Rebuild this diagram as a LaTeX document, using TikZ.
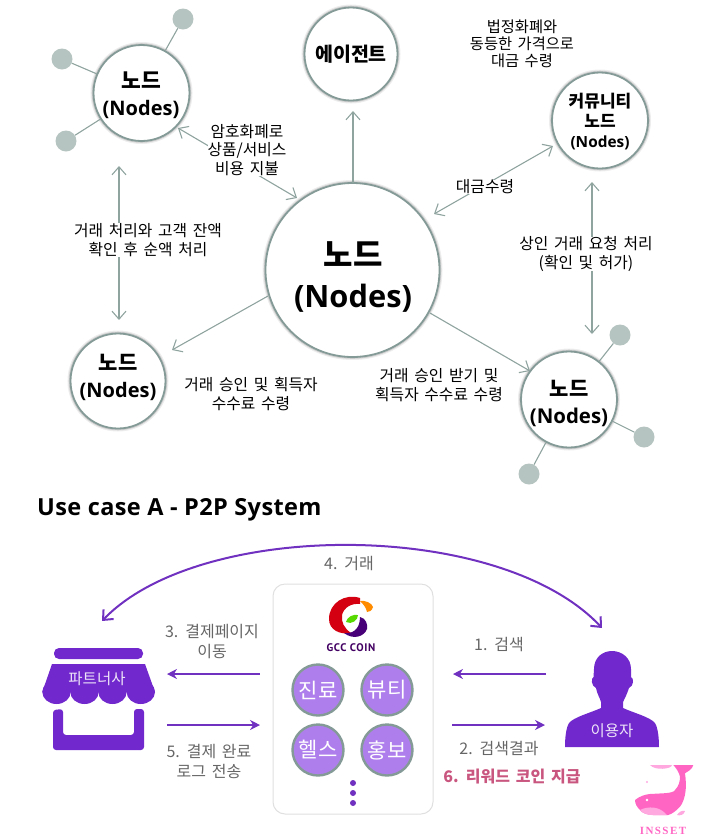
\documentclass[tikz,border=0pt]{standalone}
\usepackage{fontspec}
\setmainfont[WordSpace=1.6]{Noto Sans CJK KR}
\newfontfamily\insfont{Liberation Serif}
\newfontfamily\latf{Open Sans}
\newfontfamily\gccf{PT Sans}
\usetikzlibrary{arrows.meta,calc}
\definecolor{edge}{HTML}{8FA39F}
\definecolor{ring}{HTML}{849A96}
\definecolor{sat}{HTML}{B5C4C0}
\definecolor{purp}{HTML}{7128CC}
\definecolor{arrowp}{HTML}{7030C0}
\definecolor{lilac}{HTML}{AE7FEC}
\definecolor{grayt}{HTML}{666666}
\definecolor{rose}{HTML}{C9567F}
\definecolor{whale}{HTML}{FF66C4}
\definecolor{whalel}{HTML}{FFA8E0}
\newcommand{\fsz}[2]{\fontsize{#1}{#2}\selectfont}
\tikzset{
 nodecirc/.style={circle,draw=ring,line width=1.8pt,fill=white,minimum size=#1,inner sep=0pt,
   preaction={draw=black,draw opacity=.07,line width=6pt},
   preaction={draw=black,draw opacity=.14,line width=3.6pt}},
 ntext/.style={inner sep=0pt,align=center,font=\bfseries\fsz{20}{#1}},
 satel/.style={circle,fill=sat,minimum size=21,inner sep=0pt},
 satline/.style={draw=edge,line width=1.1pt},
 flow/.style={draw=edge,line width=1.1pt,-{Straight Barb[length=8,width=14]}},
 flowb/.style={draw=edge,line width=1.1pt,{Straight Barb[length=8,width=14]}-{Straight Barb[length=8,width=14]}},
 lab/.style={fill=white,inner sep=0pt,align=center,font=\fsz{15.8}{18.7}},
 free/.style={inner sep=0pt,align=center,font=\fsz{15.8}{18.7}},
 gflow/.style={draw=arrowp,line width=2pt,-{Stealth[length=10,width=10]}},
 gtext/.style={inner sep=0pt,align=center,text=grayt,font=\fsz{16}{20}},
 svc/.style={circle,draw=ring,line width=2.4pt,fill=lilac,minimum size=51,inner sep=0pt,text=white,font=\fsz{21}{24}},
 dotp/.style={circle,fill=arrowp,minimum size=6,inner sep=0pt},
}
\begin{document}
\begin{tikzpicture}[x=1pt,y=-1pt]
\useasboundingbox (0,0) rectangle (703,839);
% ---------- circles
\node[nodecirc=96] (tl) at (141.5,93) {};
\node[nodecirc=93] (ag) at (351,54) {};
\node[nodecirc=96] (cm) at (600,120.5) {};
\node[nodecirc=95] (bl) at (118,381) {};
\node[nodecirc=96] (br) at (569,399.5) {};
\node[nodecirc=174] (mn) at (352.5,270) {};
% ---------- satellites
\node[satel] (s1) at (183,19) {};
\node[satel] (s2) at (62,59) {};
\node[satel] (s3) at (66,141) {};
\node[satel] (s4) at (620,335) {};
\node[satel] (s5) at (644,437) {};
\node[satel] (s6) at (529,474) {};
\draw[satline] (s1) -- (tl);
\draw[satline] (s2) -- (tl);
\draw[satline] (s3) -- (tl);
\draw[satline] (s4) -- (br);
\draw[satline] (s5) -- (br);
\draw[satline] (s6) -- (br);
% ---------- circle texts
\node[ntext=27] (ttl) at (141,95) {\fsz{21.5}{27}노드\\\latf\bfseries\fsz{20}{27}(Nodes)};
\node[ntext=24] (tag) at (351,54) {\fsz{19.5}{24}에이전트};
\node[ntext=20] (tcm) at (600,122) {\fsz{17}{20}커뮤니티\\\fsz{17}{20}노드\\\latf\bfseries\fsz{15.4}{20}(Nodes)};
\node[ntext=27] (tbl) at (118,377) {\fsz{21}{27}노드\\\latf\bfseries\fsz{20}{27}(Nodes)};
\node[ntext=27] (tbr) at (569,403) {\fsz{21}{27}노드\\\latf\bfseries\fsz{20.4}{27}(Nodes)};
\node[ntext=41] (tmn) at (353,277) {\fsz{32}{41}노드\\\latf\bfseries\fsz{30.8}{41}(Nodes)};
% ---------- connector ends
\coordinate (a1) at (178,128); \coordinate (a2) at (297,198);
\coordinate (b1) at (119,166); \coordinate (b2) at (119,320);
\coordinate (c1) at (592,182); \coordinate (c2) at (592,334);
\coordinate (d1) at (434,214); \coordinate (d2) at (553,146);
\coordinate (e1) at (268,296); \coordinate (e2) at (172,350);
\coordinate (f1) at (430,313); \coordinate (f2) at (530,371);
\coordinate (g1) at (353,183); \coordinate (g2) at (353,111);
\draw[flowb] (a1) -- (a2);
\draw[flowb] (b1) -- (b2);
\draw[flowb] (c1) -- (c2);
\draw[flowb] (d1) -- (d2);
\draw[flow] (e1) -- (e2);
\draw[flow] (f1) -- (f2);
\draw[flow] (g1) -- (g2);
% ---------- labels
\node[lab] (t1) at (247,150) {암호화폐로\\상품/서비스\\비용 지불};
\node[lab] (t2) at (148,240) {거래 처리와 고객 잔액\\확인 후 순액 처리};
\node[lab] (t3) at (586,254) {상인 거래 요청 처리\\(확인 및 허가)};
\node[lab] (t4) at (485,187) {대금수령};
\node[free] (t5) at (251,394) {거래 승인 및 획득자\\수수료 수령};
\node[free] (t6) at (439,385) {거래 승인 받기 및\\획득자 수수료 수령};
\node[free,font=\fsz{15.3}{17}] (t7) at (522,44) {법정화폐와\\동등한 가격으로\\대금 수령};
% ---------- title
\node[anchor=west,inner sep=0pt,font=\latf\bfseries\fsz{23.5}{28}] (title) at (37,510) {\addfontfeature{LetterSpace=1.7}Use case A - P2P System};
% ---------- card
\node[draw=black!12,line width=1pt,rounded corners=12,fill=white,minimum width=160,minimum height=230,inner sep=0pt] (card) at (353,699) {};
% logo
\fill[red!70!purple!90!black] (360,598) .. controls (345,593) and (329,603) .. (329,619) .. controls (329,630) and (340,635) .. (351,633) .. controls (344,628) and (341,622) .. (342,615) .. controls (344,607) and (352,603) .. (360,604) -- cycle;
\fill[orange!90!yellow] (360,601) .. controls (365,600) and (372,603) .. (373,607) .. controls (372,611) and (369,612) .. (367,612) .. controls (366,607) and (363,604) .. (360,601) -- cycle;
\fill[green!60!yellow!85!black] (346,622) .. controls (347,617) and (353,614) .. (358,615) .. controls (358,620) and (352,625) .. (346,622) -- cycle;
\fill[purple!50!blue!75!black] (360,617) .. controls (366,618) and (368,625) .. (367,629) .. controls (364,637) and (353,640) .. (344,633) .. controls (352,634) and (360,630) .. (360,617) -- cycle;
\node[inner sep=0pt,text=black!50!purple!70!blue,font=\gccf\bfseries\fsz{11}{12}] (gcc) at (351,648) {\addfontfeature{LetterSpace=6}GCC COIN};
% services
\node[svc] (v1) at (318,690) {진료};
\node[svc] (v2) at (387,690) {뷰티};
\node[svc] (v3) at (318,750) {헬스};
\node[svc] (v4) at (387,750) {홍보};
\node[dotp] (p1) at (353,783) {};
\node[dotp] (p2) at (353,793) {};
\node[dotp] (p3) at (353,803) {};
% ---------- partner store
\fill[purp,rounded corners=5] (54,648) rectangle (143,659);
\fill[purp] (52,664) -- (145,664) -- (155,692) -- (42.3,692) -- cycle;
\foreach \c in {56.5,84.5,112.5,140.8}{\fill[purp] (\c,692) ellipse[x radius=14.2,y radius=12];}
\fill[purp,rounded corners=3] (53,710) -- (63,709) -- (63,735) -- (134,735) -- (134,709) -- (144,709) -- (144,750) -- (53,750) -- cycle;
\node[inner sep=0pt,text=white!88!purp,font=\fsz{15.5}{18}] (partner) at (97,679) {파트너사};
% ---------- user
\fill[purp] (612,651) .. controls (602,651) and (594,658) .. (594,669) -- (593.5,677) .. controls (591,678) and (591,686) .. (596,688) .. controls (597,694) and (600,698) .. (601,702) -- (601,708) .. controls (590,713) and (574,717) .. (569,723) .. controls (566,728) and (565,738) .. (565,747) -- (659,747) .. controls (659,738) and (658,728) .. (655,723) .. controls (650,717) and (634,713) .. (623,708) -- (623,702) .. controls (625,698) and (627,694) .. (629,688) .. controls (634,686) and (634,678) .. (631,677) -- (631,669) .. controls (631,658) and (622,651) .. (612,651) -- cycle;
\node[inner sep=0pt,text=white!88!purp,font=\fsz{15.5}{18}] (user) at (612,731) {이용자};
% ---------- purple connectors
\coordinate (h1) at (260,674); \coordinate (h2) at (167,674);
\coordinate (i1) at (167,725); \coordinate (i2) at (260,725);
\coordinate (j1) at (546,674); \coordinate (j2) at (453,674);
\coordinate (k1) at (452,725); \coordinate (k2) at (545,725);
\draw[gflow] (h1) -- (h2);
\draw[gflow] (i1) -- (i2);
\draw[gflow] (j1) -- (j2);
\draw[gflow] (k1) -- (k2);
\coordinate (l1) at (102,621); \coordinate (l2) at (602,628);
\draw[draw=arrowp,line width=2pt,{Straight Barb[length=8,width=14]}-{Straight Barb[length=8,width=14]}] (l1) .. controls (200,519) and (500,519) .. (l2);
% ---------- lower labels
\node[gtext,fill=white] (u1) at (349,563) {4. 거래};
\node[gtext] (u2) at (212,642) {3. 결제페이지\\이동};
\node[gtext] (u3) at (209,761) {5. 결제 완료\\로그 전송};
\node[gtext] (u4) at (499,645) {1. 검색};
\node[gtext] (u5) at (499,748) {2. 검색결과};
\node[inner sep=0pt,text=rose,font=\bfseries\fsz{16}{20}] (u6) at (512,777) {6. 리워드 코인 지급};
% ---------- whale
\fill[whalel] (650,765) -- (672,765) .. controls (672,769) and (655,771) .. (650,765) -- cycle;
\fill[whale] (673.3,765) -- (693.3,765) .. controls (692,770) and (688,771) .. (685,773.3) .. controls (686,780) and (686,785) .. (685.7,790) .. controls (685,797) and (683,803) .. (680,806.7) .. controls (676,811) and (672,814) .. (668.3,815) -- (653.3,815) .. controls (647,815) and (642,813) .. (640,810) .. controls (637,807) and (635,804) .. (635,800) .. controls (640,796) and (645,794.5) .. (650,794) -- (663.3,793.3) .. controls (670,793) and (674,792) .. (675,790) .. controls (679,786) and (680,781) .. (680,776.7) .. controls (679,772) and (676,768) .. (673.3,765) -- cycle;
\fill[whalel] (640,810) .. controls (648,806) and (660,806) .. (667,815.2) -- (653.3,815.2) .. controls (647,815) and (642,813) .. (640,810) -- cycle;
\fill[whalel] (677,815) .. controls (679,812) and (682,810) .. (685,811) .. controls (684,815) and (680,816) .. (677,815) -- cycle;
\fill[white] (647,800) circle[radius=1.3];
\fill[whalel] (647,782) circle[radius=1.2];
\node[inner sep=0pt,text=whale,font=\insfont\bfseries\fsz{11}{12}] (ins) at (663,830.5) {\addfontfeature{LetterSpace=13}INSSET};
\end{tikzpicture}
\end{document}
